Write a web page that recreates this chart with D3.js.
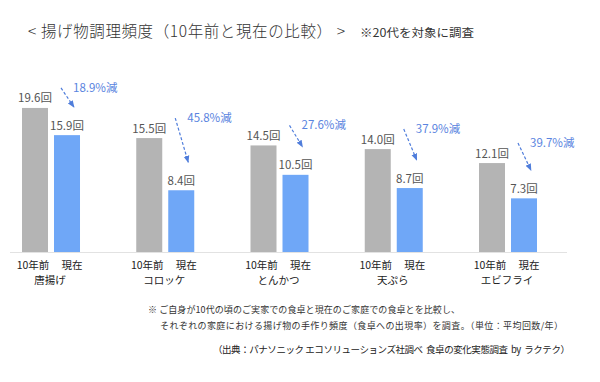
<!DOCTYPE html>
<html><head><meta charset="utf-8">
<script src="https://cdn.jsdelivr.net/npm/d3@7"></script>
<style>
html,body{margin:0;padding:0;background:#fff;}
svg{display:block;font-family:"Noto Sans CJK JP","Noto Sans",sans-serif;}
.pre{white-space:pre;}
</style></head>
<body><svg id="c" width="600" height="382"></svg>
<script>
const categories = ["唐揚げ","コロッケ","とんかつ","天ぷら","エビフライ"];
const seriesNames = ["10年前","現在"];
const before = [19.6, 15.5, 14.5, 14.0, 12.1];
const now = [15.9, 8.4, 10.5, 8.7, 7.3];
const decreaseLabels = ["18.9%減","45.8%減","27.6%減","37.9%減","39.7%減"];
const unit = "回";
const titleText = "< 揚げ物調理頻度（10年前と現在の比較） >";
const subNote = "※20代を対象に調査";
const footLine1 = "※ ご自身が10代の頃のご実家での食卓と現在のご家庭での食卓とを比較し、";
const footLine2 = "それぞれの家庭における揚げ物の手作り頻度（食卓への出現率）を調査。（単位：平均回数/年）";
const sourceText = "（出典：パナソニック エコソリューションズ社調べ  食卓の変化実態調査  by  ラクテク）";

const svg = d3.select("#c");
const colors = ["#b4b4b4", "#6fa7f7"];
const blueText = "#5a84e0";
const arrowColor = "#4f7ddb";

const x0 = d3.scaleBand().domain(categories).range([22, 537]).paddingInner(0.4923).paddingOuter(0);
const x1 = d3.scaleBand().domain(seriesNames).range([0, x0.bandwidth()]).paddingInner(0.1875).paddingOuter(0);
const y = d3.scaleLinear().domain([0, 20]).range([252, 105]);

// title
svg.append("text").attr("class","pre").attr("x", 28).attr("y", 30).attr("dominant-baseline","central")
  .attr("font-size", 15.5).attr("fill", "#333").attr("font-weight", 300).text(titleText)
  .attr("textLength", 317).attr("lengthAdjust","spacing");
svg.append("text").attr("x", 360).attr("y", 32).attr("dominant-baseline","central")
  .attr("font-size", 11.5).attr("fill", "#333").text(subNote)
  .attr("textLength", 114).attr("lengthAdjust","spacingAndGlyphs");

// baseline
svg.append("line").attr("x1", 10).attr("x2", 567).attr("y1", y(0)+0.5).attr("y2", y(0)+0.5)
  .attr("stroke", "#e2e2e2").attr("stroke-width", 1);

const rows = categories.map((c,i)=>({cat:c, vals:[before[i], now[i]], pct:decreaseLabels[i]}));

const g = svg.selectAll("g.grp").data(rows).join("g").attr("class","grp")
  .attr("transform", d=>`translate(${x0(d.cat)},0)`);

g.selectAll("rect").data(d=>d.vals.map((v,j)=>({s:seriesNames[j], v, j}))).join("rect")
  .attr("x", d=>x1(d.s)).attr("width", x1.bandwidth())
  .attr("y", d=>y(d.v)).attr("height", d=>y(0)-y(d.v))
  .attr("fill", d=>colors[d.j]);

g.selectAll("text.val").data(d=>d.vals.map((v,j)=>({s:seriesNames[j], v}))).join("text")
  .attr("class","val")
  .attr("x", d=>x1(d.s)+x1.bandwidth()/2).attr("y", d=>y(d.v)-10.5)
  .attr("text-anchor","middle").attr("dominant-baseline","central")
  .attr("font-size", 11.5).attr("fill", "#555")
  .text(d=>d.v.toFixed(1)+unit);

// x labels (spread slightly apart, as in the reference)
const serShift = [-2, 5];
g.selectAll("text.ser").data(seriesNames).join("text").attr("class","ser")
  .attr("x", (d,j)=>x1(d)+x1.bandwidth()/2+serShift[j]).attr("y", 264)
  .attr("text-anchor","middle").attr("dominant-baseline","central")
  .attr("font-size", 10.5).attr("fill", "#222").text(d=>d);
g.append("text").attr("x", x0.bandwidth()/2 - 1).attr("y", 279)
  .attr("text-anchor","middle").attr("dominant-baseline","central")
  .attr("font-size", 10.5).attr("fill", "#222").text(d=>d.cat);

// arrows
const defs = svg.append("defs");
defs.append("marker").attr("id","ah").attr("viewBox","0 0 10 10").attr("refX",9).attr("refY",5)
  .attr("markerWidth",6).attr("markerHeight",6).attr("orient","auto")
  .append("path").attr("d","M0,1 L10,5 L0,9 Z").attr("fill", arrowColor);

const bx = x1(seriesNames[1]);
g.append("line")
  .attr("x1", bx+7).attr("y1", d=>y(d.vals[0])-20)
  .attr("x2", bx+20).attr("y2", d=>y(d.vals[1])-28)
  .attr("stroke", arrowColor).attr("stroke-width", 1.2).attr("stroke-dasharray","3,2")
  .attr("marker-end","url(#ah)");
g.append("text").attr("x", bx+19).attr("y", d=>y(d.vals[0])-21)
  .attr("dominant-baseline","central").attr("font-size", 11.5).attr("fill", blueText)
  .text(d=>d.pct);

// footnotes
svg.append("text").attr("x", 148).attr("y", 309).attr("dominant-baseline","central")
  .attr("font-size", 9).attr("fill", "#333").text(footLine1)
  .attr("textLength", 312).attr("lengthAdjust","spacing");
svg.append("text").attr("x", 160).attr("y", 325).attr("dominant-baseline","central")
  .attr("font-size", 9).attr("fill", "#333").text(footLine2)
  .attr("textLength", 403).attr("lengthAdjust","spacing");
svg.append("text").attr("class","pre").attr("x", 213).attr("y", 349).attr("dominant-baseline","central")
  .attr("font-size", 9.5).attr("fill", "#222").text(sourceText)
  .attr("textLength", 357).attr("lengthAdjust","spacing");
</script></body></html>
